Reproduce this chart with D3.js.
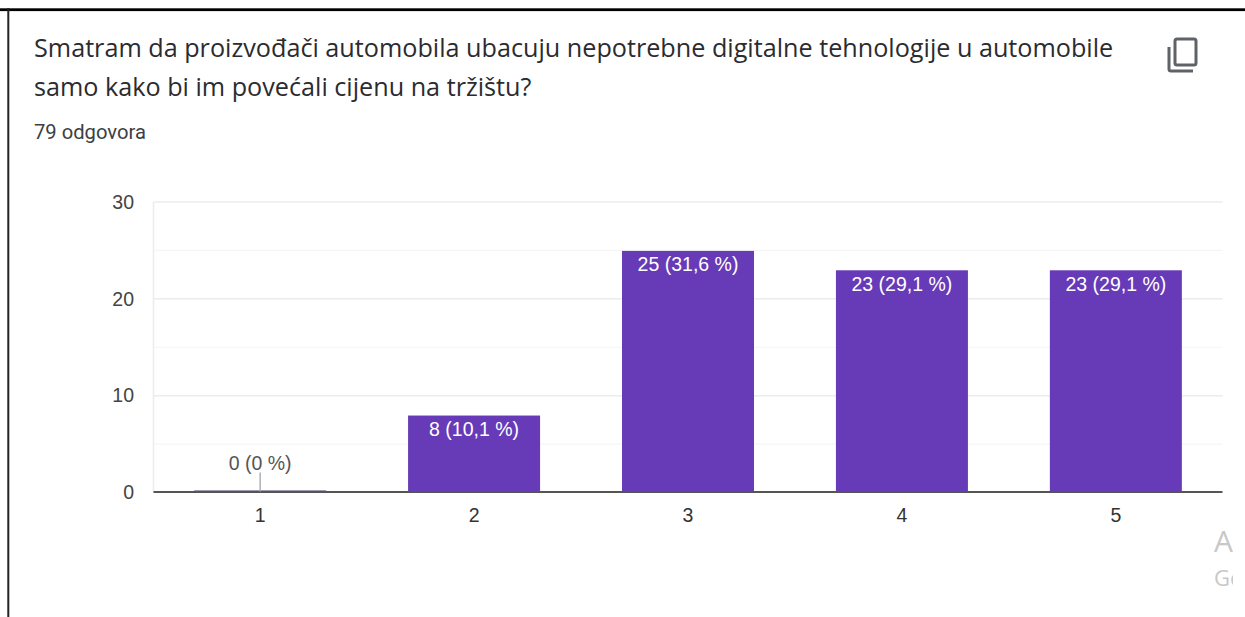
<!DOCTYPE html>
<html><head><meta charset="utf-8">
<script src="https://cdn.jsdelivr.net/npm/d3@7"></script>
<style>html,body{margin:0;padding:0;background:#fff;overflow:hidden}svg{display:block}</style>
</head><body><svg id="c" width="1245" height="617"></svg>
<script>
const titleLines = ["Smatram da proizvođači automobila ubacuju nepotrebne digitalne tehnologije u automobile","samo kako bi im povećali cijenu na tržištu?"];
const responses = "79 odgovora";
const categories = ["1","2","3","4","5"];
const counts = [0,8,25,23,23];
const labels = ["0 (0 %)","8 (10,1 %)","25 (31,6 %)","23 (29,1 %)","23 (29,1 %)"];
const majorTicks = [0,10,20,30];
const minorTicks = [5,15,25];
const watermark = ["A","Go"];

const svg = d3.select("#c");
const W=1245,H=617,L=153.5,R=1222.5,T=202,B=492.5;
const sans="Roboto, Arial, sans-serif", arial="'Liberation Sans', Arial, sans-serif";
const x=d3.scaleBand().domain(categories).range([L,R]).paddingInner(0.383).paddingOuter(0.19);
const y=d3.scaleLinear().domain([0,30]).range([B,T]);

// screenshot frame
svg.append("rect").attr("x",0).attr("y",8.3).attr("width",W).attr("height",2.8).attr("fill","#000");
svg.append("rect").attr("x",7.3).attr("y",8).attr("width",2).attr("height",H-8).attr("fill","#222");

// title
svg.append("g").selectAll("text").data(titleLines).join("text")
 .attr("x",34).attr("y",(d,i)=>57+i*38.5)
 .attr("font-family","'Open Sans', sans-serif").attr("font-size",25.2).attr("fill","#2b2b30").text(d=>d);
svg.append("text").attr("x",34).attr("y",139).attr("font-family",sans).attr("font-size",20.2).attr("fill","#3c4043").text(responses);

// copy icon
const ic=svg.append("g").attr("fill","none").attr("stroke","#5f6368").attr("stroke-width",3);
ic.append("rect").attr("x",1175).attr("y",39).attr("width",21).attr("height",26).attr("rx",2);
ic.append("path").attr("d","M1169 47V69a2 2 0 0 0 2 2H1193");

// grid
const g=svg.append("g");
g.selectAll("line.minor").data(minorTicks).join("line").attr("class","minor")
 .attr("x1",L).attr("x2",R).attr("y1",d=>y(d)).attr("y2",d=>y(d)).attr("stroke","#f5f5f5").attr("stroke-width",1.2);
g.selectAll("line.major").data(majorTicks.filter(d=>d>0)).join("line").attr("class","major")
 .attr("x1",L).attr("x2",R).attr("y1",d=>y(d)).attr("y2",d=>y(d)).attr("stroke","#ececec").attr("stroke-width",1.5);
g.append("line").attr("x1",L).attr("x2",L).attr("y1",T).attr("y2",B).attr("stroke","#ececec").attr("stroke-width",1.5);

// y axis
const ya=svg.append("g").attr("transform",`translate(${L},0)`).call(d3.axisLeft(y).tickValues(majorTicks).tickSize(0).tickPadding(19.5));
ya.select(".domain").remove();
ya.selectAll("text").attr("font-family",arial).attr("font-size",19.5).attr("fill","#444");

// bars
svg.append("g").selectAll("rect").data(counts).join("rect")
 .attr("x",(d,i)=>x(categories[i])).attr("width",x.bandwidth())
 .attr("y",d=>y(d)+0.5).attr("height",d=>Math.max(0,B-y(d)-0.5)).attr("fill","#673ab7");
// zero-value bar
svg.append("line").attr("x1",x("1")).attr("x2",x("1")+x.bandwidth()).attr("y1",B-1.2).attr("y2",B-1.2).attr("stroke","#3f3a6b").attr("stroke-width",1.5);

// x axis
const xa=svg.append("g").attr("transform",`translate(0,${B})`).call(d3.axisBottom(x).tickSize(0).tickPadding(16));
xa.select(".domain").remove();
xa.selectAll("text").attr("font-family",arial).attr("font-size",19.5).attr("fill","#333");
svg.append("line").attr("x1",L).attr("x2",R).attr("y1",B-.5).attr("y2",B-.5).attr("stroke","#555").attr("stroke-width",1.8);

// value labels
svg.append("g").selectAll("text").data(counts).join("text")
 .attr("x",(d,i)=>x(categories[i])+x.bandwidth()/2)
 .attr("y",d=>d>0?y(d)+21:y(d)-23).attr("text-anchor","middle")
 .attr("font-family",arial).attr("font-size",19.5).attr("fill",d=>d>0?"#fff":"#555")
 .text((d,i)=>labels[i]);
// leader for the zero bar
svg.append("line").attr("x1",x("1")+x.bandwidth()/2).attr("x2",x("1")+x.bandwidth()/2)
 .attr("y1",y(0)-20).attr("y2",y(0)-1).attr("stroke","#aaa").attr("stroke-width",1.4);

// clipped watermark
const clip=svg.append("clipPath").attr("id","wm");
clip.append("rect").attr("x",1200).attr("y",500).attr("width",33).attr("height",100);
const wm=svg.append("g").attr("clip-path","url(#wm)").attr("font-family","'Open Sans', sans-serif").attr("fill","#c8c8c8");
wm.append("text").attr("x",1214).attr("y",552).attr("font-size",30).text(watermark[0]);
wm.append("text").attr("x",1214).attr("y",586).attr("font-size",22).text(watermark[1]);
</script></body></html>
